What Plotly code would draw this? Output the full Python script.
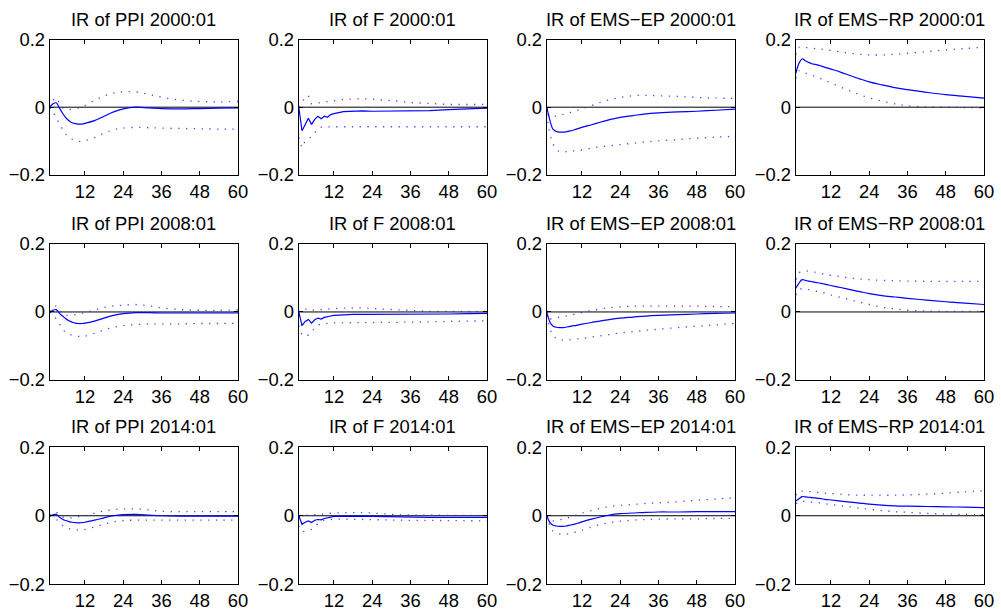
import plotly.graph_objects as go

# Forecast horizon (months) at which the responses are recorded
horizon = [1, 2, 3, 4, 5, 6, 7, 8, 9, 10, 11, 12, 15, 18, 21, 24, 28, 32, 36, 42, 48, 54, 60]

# ---- 2000:01 ----
ppi_2000_irf = [0, 0.010, 0.013, -0.002, -0.018, -0.031, -0.040, -0.046, -0.049, -0.050, -0.050, -0.048, -0.040, -0.027, -0.014, -0.005, 0.000, -0.002, -0.004, -0.005, -0.004, -0.003, -0.002]
ppi_2000_hi = [0, 0.020, 0.028, 0.012, -0.002, -0.006, -0.007, -0.006, -0.004, -0.002, 0.001, 0.005, 0.020, 0.033, 0.042, 0.046, 0.045, 0.038, 0.030, 0.021, 0.017, 0.016, 0.017]
ppi_2000_lo = [0, -0.015, -0.030, -0.050, -0.065, -0.080, -0.089, -0.095, -0.099, -0.101, -0.101, -0.099, -0.090, -0.077, -0.067, -0.062, -0.060, -0.061, -0.062, -0.063, -0.064, -0.065, -0.065]

f_2000_irf = [0, -0.070, -0.052, -0.033, -0.051, -0.036, -0.027, -0.034, -0.027, -0.030, -0.022, -0.019, -0.013, -0.011, -0.011, -0.012, -0.012, -0.012, -0.012, -0.010, -0.007, -0.004, -0.003]
f_2000_hi = [0, 0.012, 0.030, 0.034, 0.010, 0.011, 0.012, 0.013, 0.014, 0.015, 0.017, 0.019, 0.023, 0.025, 0.025, 0.024, 0.022, 0.018, 0.014, 0.010, 0.008, 0.008, 0.008]
f_2000_lo = [-0.090, -0.120, -0.100, -0.094, -0.088, -0.076, -0.064, -0.059, -0.058, -0.058, -0.058, -0.058, -0.058, -0.058, -0.058, -0.058, -0.058, -0.058, -0.058, -0.058, -0.058, -0.058, -0.058]

ep_2000_irf = [0, -0.040, -0.066, -0.072, -0.074, -0.074, -0.073, -0.071, -0.069, -0.066, -0.063, -0.060, -0.052, -0.044, -0.036, -0.030, -0.025, -0.020, -0.017, -0.014, -0.012, -0.009, -0.006]
ep_2000_hi = [0, -0.030, -0.028, -0.026, -0.024, -0.022, -0.020, -0.017, -0.014, -0.011, -0.008, -0.005, 0.005, 0.015, 0.023, 0.029, 0.034, 0.035, 0.034, 0.032, 0.029, 0.027, 0.026]
ep_2000_lo = [-0.020, -0.080, -0.110, -0.125, -0.132, -0.133, -0.132, -0.131, -0.130, -0.129, -0.128, -0.127, -0.122, -0.117, -0.114, -0.111, -0.107, -0.103, -0.100, -0.096, -0.092, -0.089, -0.086]

rp_2000_irf = [0.100, 0.130, 0.143, 0.138, 0.133, 0.129, 0.127, 0.125, 0.122, 0.119, 0.116, 0.113, 0.104, 0.094, 0.084, 0.075, 0.066, 0.058, 0.052, 0.044, 0.037, 0.032, 0.027]
rp_2000_hi = [0.155, 0.178, 0.178, 0.177, 0.176, 0.175, 0.174, 0.173, 0.172, 0.171, 0.170, 0.168, 0.164, 0.160, 0.157, 0.155, 0.155, 0.157, 0.160, 0.165, 0.170, 0.174, 0.178]
rp_2000_lo = [0.085, 0.108, 0.105, 0.101, 0.098, 0.095, 0.092, 0.088, 0.084, 0.080, 0.076, 0.072, 0.060, 0.048, 0.037, 0.028, 0.018, 0.010, 0.004, 0.001, 0.000, -0.001, -0.002]

# ---- 2008:01 ----
ppi_2008_irf = [0, 0.005, 0.007, -0.004, -0.012, -0.020, -0.026, -0.030, -0.033, -0.034, -0.034, -0.033, -0.027, -0.018, -0.010, -0.005, -0.002, -0.002, -0.003, -0.003, -0.003, -0.003, -0.003]
ppi_2008_hi = [0, 0.010, 0.018, 0.004, -0.006, -0.009, -0.010, -0.009, -0.008, -0.006, -0.004, -0.002, 0.006, 0.013, 0.018, 0.020, 0.022, 0.018, 0.012, 0.007, 0.005, 0.005, 0.006]
ppi_2008_lo = [0, -0.010, -0.020, -0.035, -0.050, -0.060, -0.065, -0.068, -0.070, -0.072, -0.072, -0.071, -0.063, -0.053, -0.045, -0.040, -0.037, -0.036, -0.036, -0.035, -0.034, -0.034, -0.033]

f_2008_irf = [0, -0.040, -0.028, -0.022, -0.033, -0.023, -0.018, -0.021, -0.016, -0.015, -0.012, -0.010, -0.008, -0.007, -0.007, -0.007, -0.007, -0.008, -0.008, -0.007, -0.006, -0.005, -0.004]
f_2008_hi = [0, 0.008, 0.010, 0.004, 0.005, 0.006, 0.007, 0.008, 0.008, 0.009, 0.010, 0.010, 0.011, 0.012, 0.012, 0.010, 0.008, 0.005, 0.003, 0.002, 0.002, 0.002, 0.002]
f_2008_lo = [-0.040, -0.068, -0.070, -0.068, -0.060, -0.046, -0.039, -0.035, -0.034, -0.033, -0.033, -0.032, -0.032, -0.032, -0.032, -0.032, -0.031, -0.031, -0.030, -0.029, -0.028, -0.027, -0.026]

ep_2008_irf = [0, -0.030, -0.042, -0.045, -0.046, -0.046, -0.045, -0.043, -0.041, -0.040, -0.038, -0.036, -0.031, -0.026, -0.022, -0.018, -0.015, -0.012, -0.010, -0.008, -0.006, -0.004, -0.003]
ep_2008_hi = [0, -0.020, -0.018, -0.017, -0.015, -0.013, -0.012, -0.010, -0.008, -0.006, -0.004, -0.002, 0.004, 0.009, 0.013, 0.015, 0.017, 0.017, 0.017, 0.017, 0.017, 0.016, 0.016]
ep_2008_lo = [-0.010, -0.050, -0.069, -0.078, -0.082, -0.083, -0.083, -0.082, -0.081, -0.080, -0.079, -0.078, -0.074, -0.070, -0.066, -0.062, -0.058, -0.054, -0.051, -0.046, -0.042, -0.038, -0.034]

rp_2008_irf = [0.070, 0.085, 0.095, 0.093, 0.091, 0.089, 0.087, 0.086, 0.084, 0.082, 0.080, 0.078, 0.072, 0.066, 0.060, 0.054, 0.048, 0.044, 0.040, 0.035, 0.030, 0.026, 0.022]
rp_2008_hi = [0.095, 0.115, 0.120, 0.121, 0.120, 0.119, 0.117, 0.115, 0.113, 0.111, 0.109, 0.108, 0.104, 0.100, 0.097, 0.095, 0.093, 0.092, 0.091, 0.090, 0.090, 0.090, 0.090]
rp_2008_lo = [0.050, 0.066, 0.068, 0.067, 0.066, 0.064, 0.062, 0.060, 0.058, 0.056, 0.053, 0.050, 0.043, 0.036, 0.029, 0.022, 0.014, 0.009, 0.005, 0.003, 0.002, 0.002, 0.002]

# ---- 2014:01 ----
ppi_2014_irf = [0, 0.003, 0.004, -0.004, -0.010, -0.014, -0.017, -0.019, -0.020, -0.021, -0.020, -0.019, -0.013, -0.006, 0.000, 0.003, 0.004, 0.002, 0.000, -0.001, -0.001, -0.001, -0.001]
ppi_2014_hi = [0, 0.008, 0.010, 0.001, -0.004, -0.006, -0.006, -0.006, -0.005, -0.003, -0.001, 0.000, 0.008, 0.014, 0.018, 0.020, 0.020, 0.017, 0.013, 0.012, 0.012, 0.012, 0.012]
ppi_2014_lo = [0, -0.005, -0.010, -0.020, -0.028, -0.034, -0.038, -0.040, -0.041, -0.042, -0.041, -0.040, -0.033, -0.025, -0.018, -0.014, -0.013, -0.013, -0.013, -0.013, -0.013, -0.013, -0.013]

f_2014_irf = [0, -0.025, -0.019, -0.015, -0.020, -0.013, -0.011, -0.012, -0.008, -0.007, -0.004, -0.002, -0.001, -0.001, -0.001, -0.002, -0.003, -0.004, -0.005, -0.005, -0.005, -0.005, -0.005]
f_2014_hi = [0, 0.002, 0.002, 0.001, 0.000, 0.003, 0.004, 0.006, 0.007, 0.007, 0.008, 0.008, 0.009, 0.010, 0.009, 0.008, 0.005, 0.003, 0.002, 0.001, 0.001, 0.001, 0.001]
f_2014_lo = [-0.030, -0.047, -0.045, -0.042, -0.040, -0.030, -0.022, -0.016, -0.013, -0.012, -0.011, -0.010, -0.010, -0.010, -0.010, -0.011, -0.012, -0.013, -0.013, -0.014, -0.014, -0.015, -0.015]

ep_2014_irf = [0, -0.020, -0.028, -0.030, -0.031, -0.031, -0.030, -0.028, -0.026, -0.024, -0.021, -0.018, -0.010, -0.003, 0.003, 0.006, 0.008, 0.010, 0.011, 0.011, 0.012, 0.012, 0.012]
ep_2014_hi = [0, -0.010, -0.015, -0.014, -0.012, -0.010, -0.008, -0.005, -0.002, 0.001, 0.005, 0.008, 0.015, 0.022, 0.027, 0.030, 0.033, 0.036, 0.038, 0.041, 0.045, 0.049, 0.052]
ep_2014_lo = [0, -0.030, -0.045, -0.050, -0.053, -0.055, -0.054, -0.052, -0.050, -0.048, -0.045, -0.042, -0.033, -0.025, -0.020, -0.016, -0.013, -0.011, -0.010, -0.009, -0.009, -0.008, -0.008]

rp_2014_irf = [0.043, 0.050, 0.056, 0.055, 0.054, 0.053, 0.052, 0.051, 0.050, 0.048, 0.047, 0.046, 0.043, 0.040, 0.037, 0.034, 0.031, 0.029, 0.028, 0.027, 0.026, 0.025, 0.024]
rp_2014_hi = [0.060, 0.072, 0.072, 0.072, 0.071, 0.070, 0.069, 0.068, 0.067, 0.066, 0.066, 0.065, 0.063, 0.061, 0.060, 0.060, 0.060, 0.060, 0.061, 0.063, 0.066, 0.070, 0.073]
rp_2014_lo = [0.035, 0.040, 0.042, 0.042, 0.041, 0.040, 0.039, 0.038, 0.037, 0.036, 0.034, 0.033, 0.029, 0.026, 0.022, 0.019, 0.015, 0.012, 0.010, 0.007, 0.005, 0.004, 0.003]

x_ticks = [12, 24, 36, 48, 60]
y_ticks = [-0.2, 0, 0.2]

panels = [
    ("IR of PPI 2000:01", ppi_2000_irf, ppi_2000_lo, ppi_2000_hi),
    ("IR of F 2000:01", f_2000_irf, f_2000_lo, f_2000_hi),
    ("IR of EMS\u2212EP 2000:01", ep_2000_irf, ep_2000_lo, ep_2000_hi),
    ("IR of EMS\u2212RP 2000:01", rp_2000_irf, rp_2000_lo, rp_2000_hi),
    ("IR of PPI 2008:01", ppi_2008_irf, ppi_2008_lo, ppi_2008_hi),
    ("IR of F 2008:01", f_2008_irf, f_2008_lo, f_2008_hi),
    ("IR of EMS\u2212EP 2008:01", ep_2008_irf, ep_2008_lo, ep_2008_hi),
    ("IR of EMS\u2212RP 2008:01", rp_2008_irf, rp_2008_lo, rp_2008_hi),
    ("IR of PPI 2014:01", ppi_2014_irf, ppi_2014_lo, ppi_2014_hi),
    ("IR of F 2014:01", f_2014_irf, f_2014_lo, f_2014_hi),
    ("IR of EMS\u2212EP 2014:01", ep_2014_irf, ep_2014_lo, ep_2014_hi),
    ("IR of EMS\u2212RP 2014:01", rp_2014_irf, rp_2014_lo, rp_2014_hi),
]

W, H = 1001, 614
# panel boxes in window pixels
col_left = [50, 300, 549, 799]
col_width = 189
row_top = [37, 243, 448]
row_bottom = [173, 380, 586]

# the page shows the figure inset by 8px at the top and slightly scaled
VIEW_TOP, VIEW_H, VIEW_W = 8.0, 598.0, 995.0


def px_to_paper_x(px):
    return px / VIEW_W


def px_to_paper_y(py):
    return 1 - (py - VIEW_TOP) / VIEW_H


FONT = "Arial, Liberation Sans, Helvetica, sans-serif"
FONT_SIZE = 18.4
BLUE = "#0000ff"

fig = go.Figure()
layout = {}
annotations = []

for i, (title, irf, lo, hi) in enumerate(panels):
    r, c = divmod(i, 4)
    n = i + 1
    xa = "x" if n == 1 else f"x{n}"
    ya = "y" if n == 1 else f"y{n}"
    x0 = px_to_paper_x(col_left[c])
    x1 = px_to_paper_x(col_left[c] + col_width)
    y1 = px_to_paper_y(row_top[r])
    y0 = px_to_paper_y(row_bottom[r])

    oscillating = title.startswith("IR of F ")
    shape = "linear" if oscillating else "spline"

    # zero reference line
    fig.add_trace(go.Scatter(x=[horizon[0], horizon[-1]], y=[0, 0], mode="lines",
                             line=dict(color="black", width=1), xaxis=xa, yaxis=ya,
                             hoverinfo="skip", showlegend=False))
    for band in (hi, lo):
        fig.add_trace(go.Scatter(x=horizon, y=band, mode="lines",
                                 line=dict(color="rgba(40,40,255,0.85)", width=1.3,
                                           dash="1.3px,6.5px", shape=shape),
                                 xaxis=xa, yaxis=ya, showlegend=False))
    fig.add_trace(go.Scatter(x=horizon, y=irf, mode="lines",
                             line=dict(color=BLUE, width=1.2, shape=shape),
                             xaxis=xa, yaxis=ya, showlegend=False))

    axis_common = dict(showline=True, linecolor="black", linewidth=1.2, mirror="ticks",
                       ticks="inside", ticklen=4, tickwidth=1, tickcolor="black",
                       showgrid=False, zeroline=False,
                       tickfont=dict(family=FONT, size=FONT_SIZE, color="black"))
    layout["xaxis" if n == 1 else f"xaxis{n}"] = dict(
        domain=[x0, x1], range=[1, 60], tickvals=x_ticks, anchor=ya, **axis_common)
    layout["yaxis" if n == 1 else f"yaxis{n}"] = dict(
        domain=[y0, y1], range=[-0.2, 0.2], tickvals=y_ticks, anchor=xa, **axis_common)

    annotations.append(dict(text=title, x=(x0 + x1) / 2, y=px_to_paper_y(row_top[r] - 20.5),
                            xref="paper", yref="paper", xanchor="center", yanchor="middle",
                            showarrow=False, font=dict(family=FONT, size=FONT_SIZE, color="black")))

fig.update_layout(**layout)
fig.update_layout(width=W, height=H, margin=dict(l=0, r=0, t=0, b=0),
                  paper_bgcolor="white", plot_bgcolor="white",
                  annotations=annotations, showlegend=False)

fig.write_html("out.html")
